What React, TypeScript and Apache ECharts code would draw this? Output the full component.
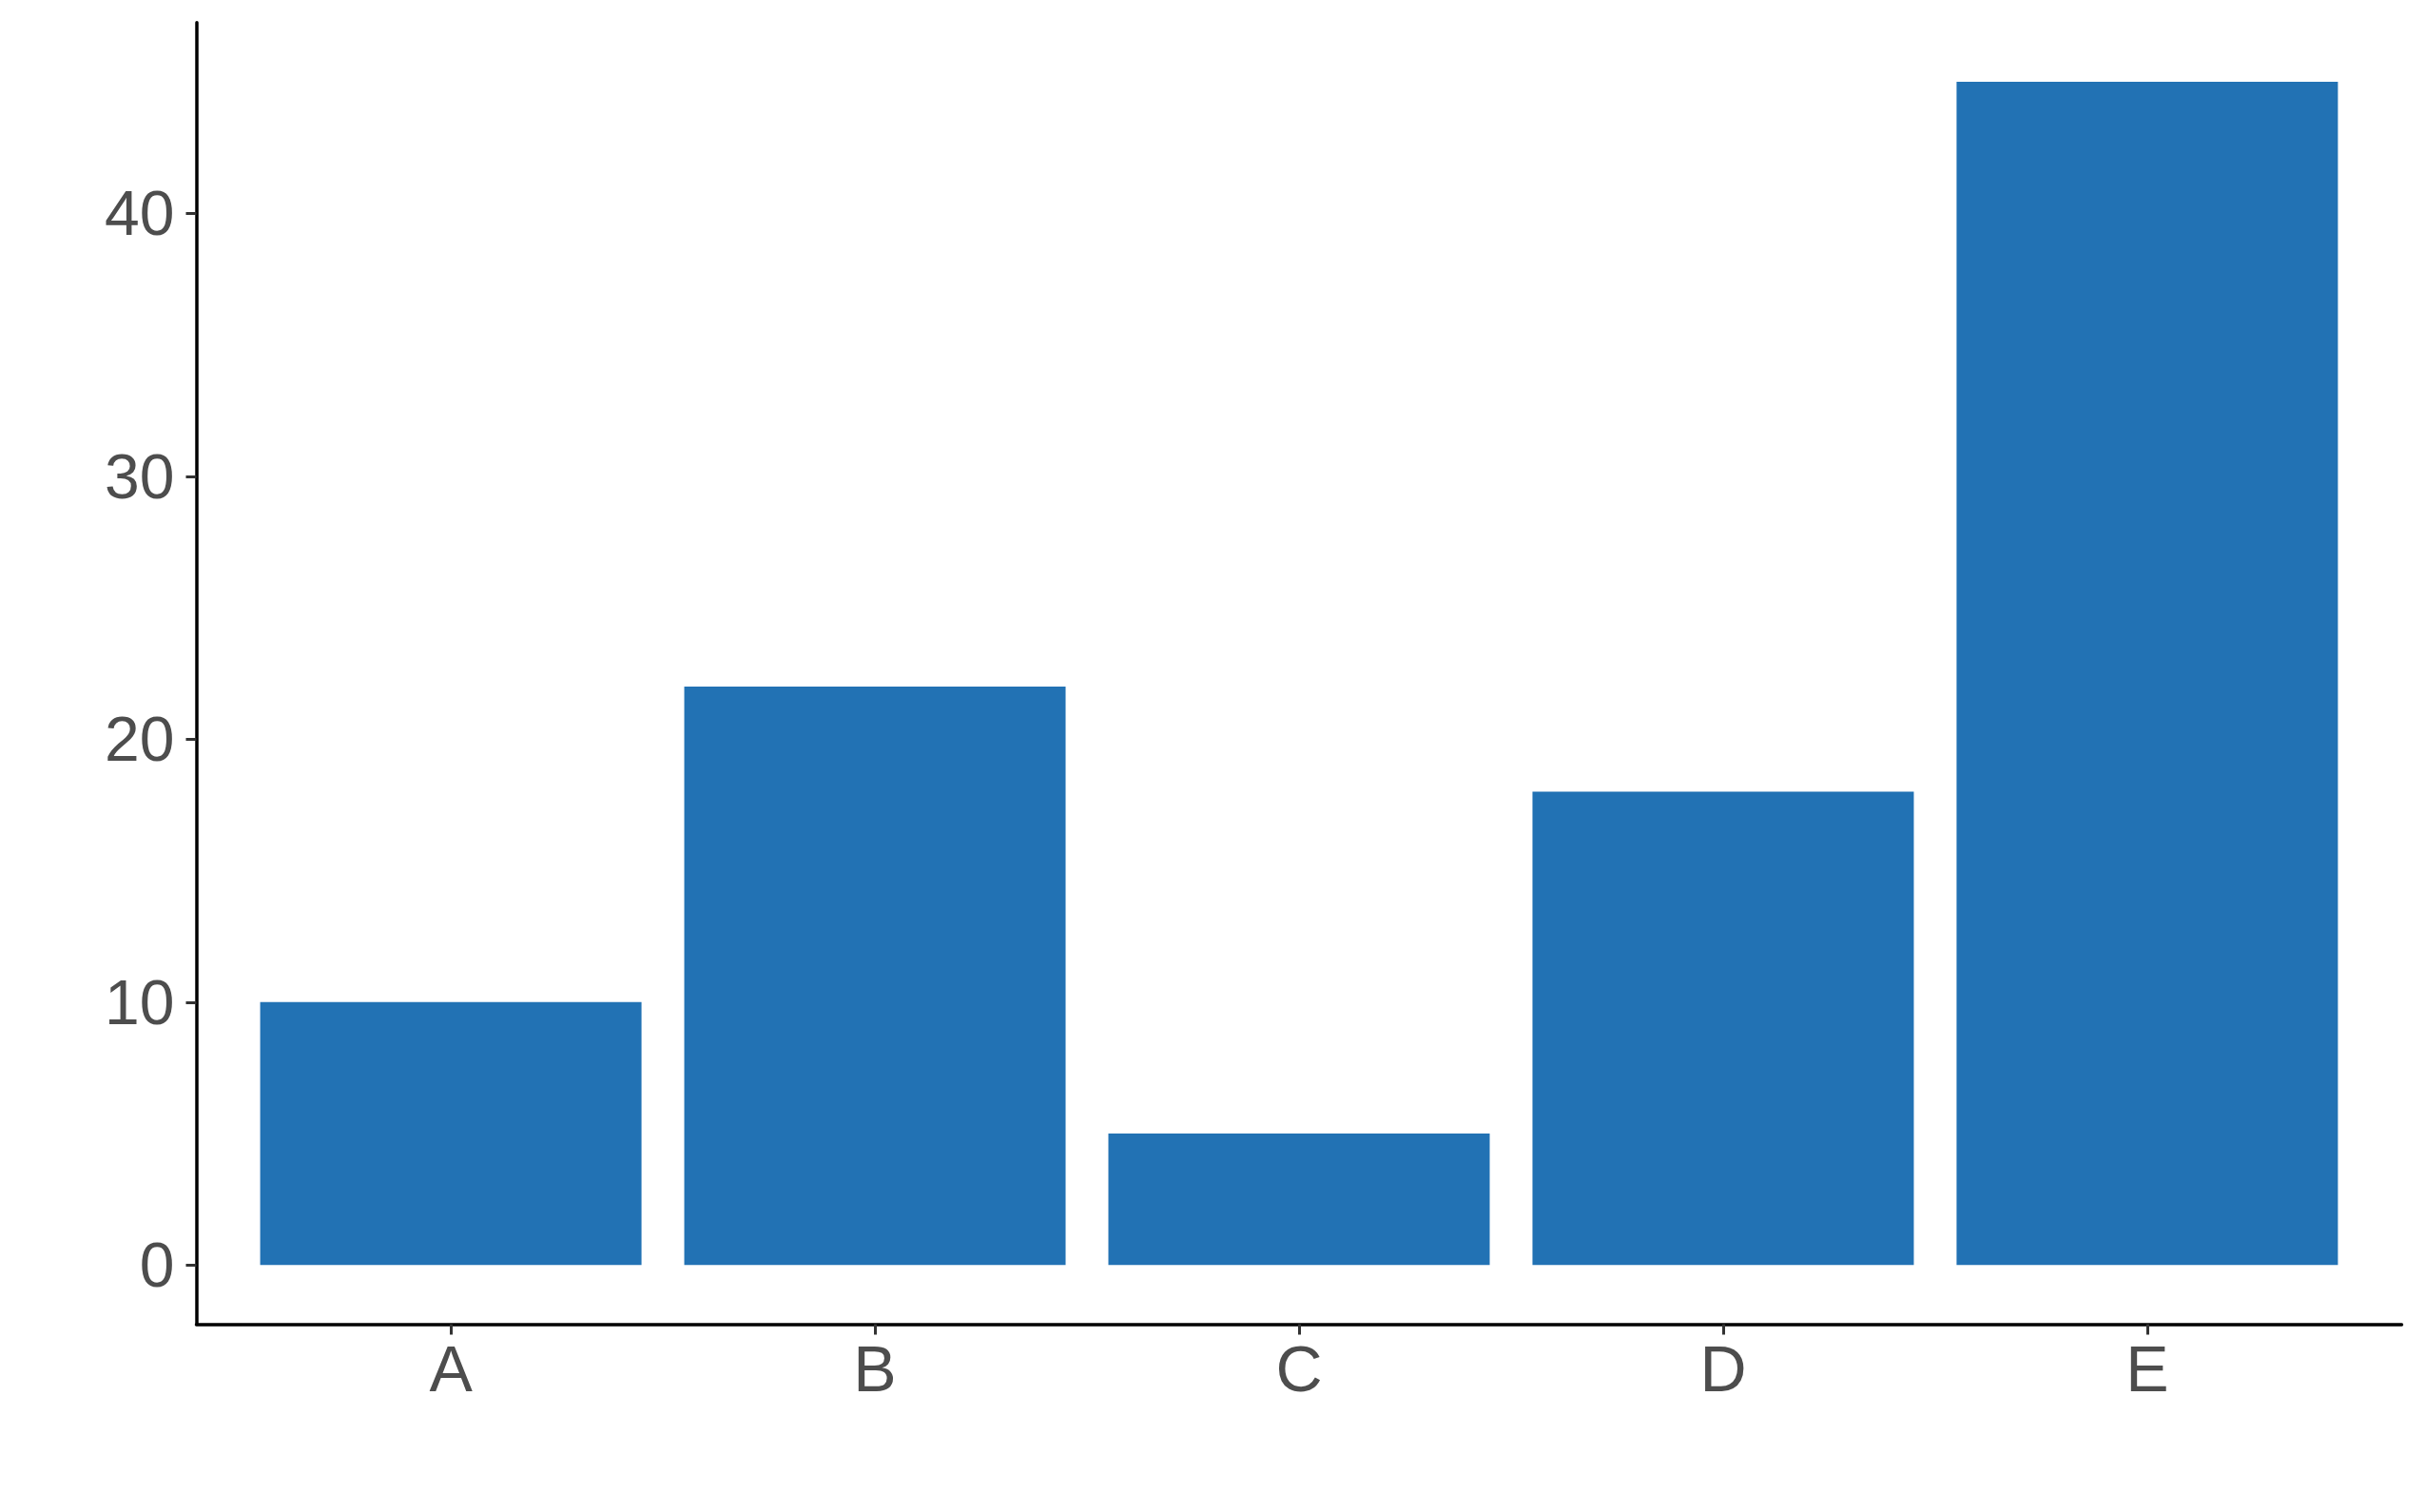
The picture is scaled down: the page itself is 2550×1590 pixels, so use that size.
import React, { useEffect, useRef } from "react";
import * as echarts from "echarts";

const categories = ["A", "B", "C", "D", "E"];
const values = [10, 22, 5, 18, 45];
const yTicks = [0, 10, 20, 30, 40];
const xPositions = [1, 2, 3, 4, 5];

export default function App() {
  const ref = useRef<HTMLDivElement>(null);
  useEffect(() => {
    if (!ref.current) return;
    const chart = echarts.init(ref.current, null, { renderer: "svg" });
    const data = values.map((v, i) => [xPositions[i], v]);
    chart.setOption({
      animation: false,
      backgroundColor: "#ffffff",
      grid: { left: 206.5, right: 24.5, top: 23.8, bottom: 197.5, containLabel: false },
      xAxis: {
        type: "value",
        min: 0.4,
        max: 5.6,
        axisLine: { show: true, onZero: false, lineStyle: { color: "#000000", width: 3.5 } },
        axisTick: { show: true, length: 11, customValues: xPositions, lineStyle: { color: "#333333", width: 3 } },
        axisLabel: {
          color: "#4d4d4d",
          fontSize: 68,
          fontFamily: "Liberation Sans, Arial, sans-serif",
          margin: 12,
          customValues: xPositions,
          formatter: (v: number) => categories[Math.round(v) - 1] ?? "",
        },
        splitLine: { show: false },
      },
      yAxis: {
        type: "value",
        min: -2.25,
        max: 47.25,
        axisLine: { show: true, onZero: false, lineStyle: { color: "#000000", width: 3.5 } },
        axisTick: { show: true, length: 11, customValues: yTicks, lineStyle: { color: "#333333", width: 3 } },
        axisLabel: { color: "#4d4d4d", fontSize: 66, fontFamily: "Liberation Sans, Arial, sans-serif", margin: 23, customValues: yTicks },
        splitLine: { show: false },
      },
      series: [
        {
          type: "bar",
          data,
          barWidth: 401,
          itemStyle: { color: "#2272b4" },
        },
      ],
    });
    return () => chart.dispose();
  }, []);
  return <div ref={ref} style={{ position: "fixed", left: 0, top: 0, width: 2550, height: 1590 }} />;
}
